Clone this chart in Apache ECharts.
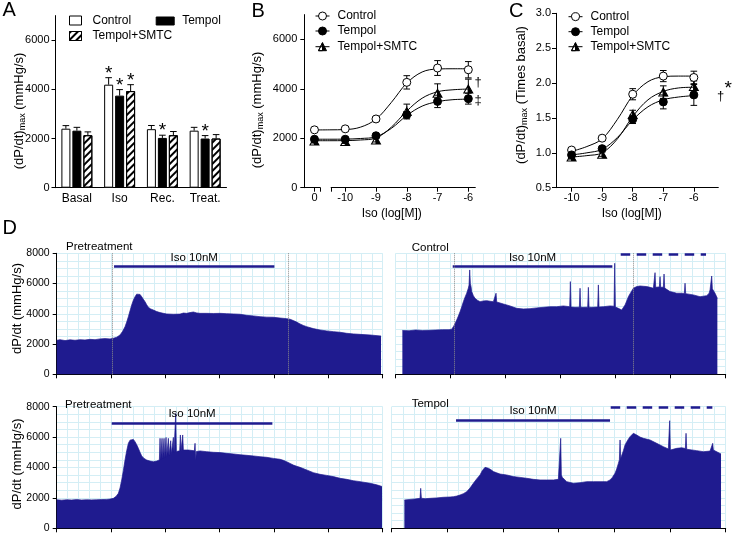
<!DOCTYPE html>
<html><head><meta charset="utf-8">
<script src="https://cdn.jsdelivr.net/npm/echarts@6/dist/echarts.min.js"></script>
<style>html,body{margin:0;padding:0;background:#fff}#c{width:733px;height:536px}</style>
</head><body><div id="c"></div>
<script>
// ---------- Panel A ----------
const catsA = ['Basal', 'Iso', 'Rec.', 'Treat.'];
const ticksA = [0, 2000, 4000, 6000];
const ctrlA = [2400, 4190, 2380, 2320];
const ctrlAErr = [125, 285, 150, 135];
const tempA = [2320, 3745, 2025, 2000];
const tempAErr = [135, 245, 110, 120];
const smtcA = [2135, 3930, 2135, 2000];
const smtcAErr = [135, 260, 150, 160];
const sigACtrl = ['', '*', '', ''];
const sigATemp = ['', '*', '*', '*'];
const sigASmtc = ['', '*', '', ''];

// ---------- Panel B ----------  (-11 stands for the "0" = no Iso position)
const xB = [-11, -10, -9, -8, -7, -6];
const xBLabels = ['0', '-10', '-9', '-8', '-7', '-6'];
const ticksB = [0, 2000, 4000, 6000];
const ctrlB = [2340, 2380, 2780, 4260, 4840, 4770];
const ctrlBErr = [60, 60, 90, 270, 300, 330];
const tempB = [1960, 1960, 2100, 2950, 3490, 3600];
const tempBErr = [60, 60, 60, 130, 250, 220];
const smtcB = [1890, 1870, 1930, 3080, 3820, 3990];
const smtcBErr = [80, 80, 80, 300, 380, 400];
const fitXB = [-11, -10.5, -10, -9.5, -9, -8.5, -8, -7.5, -7, -6.5, -6];
const ctrlFitB = [2335, 2340, 2350, 2450, 2770, 3450, 4230, 4680, 4800, 4810, 4810];
const tempFitB = [1960, 1960, 1965, 1990, 2060, 2400, 2920, 3300, 3480, 3560, 3580];
const smtcFitB = [1900, 1900, 1905, 1930, 2010, 2450, 3100, 3620, 3880, 3960, 3990];

// ---------- Panel C ----------
const xC = [-10, -9, -8, -7, -6];
const ctrlC = [1.04, 1.21, 1.84, 2.10, 2.08];
const ctrlCErr = [0.03, 0.03, 0.08, 0.08, 0.09];
const tempC = [0.97, 1.06, 1.48, 1.73, 1.83];
const tempCErr = [0.03, 0.03, 0.06, 0.10, 0.15];
const smtcC = [0.94, 0.98, 1.55, 1.87, 1.95];
const smtcCErr = [0.03, 0.03, 0.06, 0.09, 0.08];
const fitXC = [-10, -9.5, -9, -8.5, -8, -7.5, -7, -6.5, -6];
const ctrlFitC = [1.02, 1.09, 1.20, 1.48, 1.82, 2.02, 2.09, 2.10, 2.10];
const tempFitC = [0.97, 1.00, 1.05, 1.22, 1.47, 1.66, 1.76, 1.80, 1.82];
const smtcFitC = [0.94, 0.96, 1.00, 1.20, 1.52, 1.76, 1.88, 1.93, 1.94];

// ---------- Panel D traces: [time (a.u.), dP/dt mmHg/s] ----------
const trTL = [[0,2250],[10,2290],[25,2230],[40,2280],[55,2250],[70,2290],[85,2270],[100,2310],[115,2290],[130,2340],[145,2360],[160,2340],[170,2380],[180,2450],[190,2600],[198,2850],[205,3150],[210,3450],[215,3810],[220,4200],[225,4580],[230,4900],[235,5130],[240,5300],[245,5360],[250,5280],[255,5130],[260,4960],[265,4800],[270,4600],[275,4430],[282,4320],[290,4250],[300,4150],[310,4080],[320,4030],[330,3990],[350,3970],[370,3980],[380,4050],[390,4030],[400,4080],[410,4120],[420,4060],[430,4030],[450,4030],[470,4020],[490,4030],[510,4010],[530,3990],[550,3970],[570,3900],[590,3860],[610,3810],[630,3780],[650,3770],[670,3720],[690,3680],[700,3640],[710,3550],[720,3450],[730,3330],[740,3230],[750,3150],[770,3020],[790,2930],[810,2870],[830,2820],[850,2780],[870,2710],[890,2670],[910,2640],[940,2600],[973,2530]];
const trTR = [[20,2900],[40,2880],[60,2930],[80,2900],[100,2910],[120,2930],[140,2950],[160,2950],[168,2980],[173,3150],[178,3350],[183,3590],[188,3850],[193,4140],[198,4450],[203,4800],[208,5100],[213,5360],[218,5700],[220,5900],[222,6900],[224,6000],[226,5800],[228,5470],[233,5200],[238,5020],[245,4900],[253,4800],[263,4850],[273,4870],[283,4830],[293,4800],[299,4800],[301,5360],[303,4780],[308,4740],[323,4650],[343,4520],[363,4360],[383,4320],[403,4340],[423,4390],[443,4430],[463,4470],[483,4470],[503,4520],[522,4470],[524,6130],[526,4450],[538,4430],[551,4440],[553,5690],[555,4440],[563,4430],[576,4440],[578,5750],[580,4440],[588,4430],[606,4450],[608,5910],[610,4450],[623,4470],[643,4520],[655,4500],[657,7340],[659,4450],[668,4360],[678,4250],[683,4350],[688,4580],[693,4850],[698,5130],[705,5400],[713,5690],[723,5800],[733,5840],[743,5820],[753,5800],[763,5750],[773,5690],[776,5700],[778,6720],[780,5750],[785,5800],[791,5780],[793,6460],[795,5750],[801,5800],[803,5760],[805,6630],[807,5700],[813,5690],[823,5470],[833,5420],[843,5360],[855,5360],[866,5350],[868,6020],[870,5330],[873,5300],[893,5250],[913,5130],[933,5200],[940,5350],[943,5580],[946,5600],[948,6500],[950,5650],[953,5600],[958,5360],[965,5020]];
const trBL = [[0,1880],[15,1850],[30,1880],[45,1860],[60,1890],[75,1860],[90,1880],[105,1870],[120,1880],[135,1890],[150,1900],[160,1920],[170,1970],[178,2100],[185,2300],[190,2650],[195,3180],[200,3800],[205,4490],[210,5100],[215,5590],[220,5800],[225,5920],[230,5850],[235,5700],[240,5500],[245,5260],[250,5000],[255,4760],[262,4600],[270,4490],[280,4420],[290,4380],[300,4420],[305,4450],[308,4500],[310,5920],[312,4550],[314,4600],[316,5920],[318,4600],[320,4620],[322,5920],[324,4650],[326,4700],[328,5980],[330,4700],[333,4750],[335,5920],[337,4800],[340,4850],[342,5760],[344,4900],[348,4950],[350,5980],[352,5000],[355,5000],[357,7560],[359,5050],[365,5100],[369,5100],[371,6140],[373,5100],[376,5150],[378,6140],[380,5150],[385,5200],[395,5150],[413,5100],[415,5590],[417,4500],[419,5050],[430,5090],[450,5040],[470,5000],[490,4980],[510,4930],[530,4890],[550,4840],[570,4800],[590,4760],[610,4710],[630,4670],[650,4600],[670,4540],[680,4470],[690,4380],[700,4270],[710,4160],[720,4080],[730,4010],[750,3840],[770,3660],[790,3550],[810,3480],[830,3400],[850,3290],[870,3220],[890,3130],[910,3070],[940,2960],[960,2860],[976,2750]];
const trBR = [[38,1860],[55,1900],[70,1930],[85,1970],[87,2630],[89,1980],[100,1950],[115,1970],[135,2000],[155,2040],[175,2060],[185,2080],[195,2120],[205,2190],[215,2280],[225,2410],[235,2650],[245,2960],[255,3250],[265,3510],[272,3800],[280,4010],[285,4000],[290,3950],[298,3850],[305,3730],[315,3650],[325,3570],[345,3510],[365,3400],[385,3350],[405,3290],[425,3220],[445,3180],[465,3180],[485,3180],[500,3220],[505,3300],[507,5920],[509,3500],[512,3350],[515,3290],[525,3070],[545,2960],[565,3000],[585,3070],[605,3070],[625,3070],[645,3070],[655,3180],[662,3350],[670,3620],[675,3900],[680,4270],[683,4500],[685,5810],[687,4600],[690,4710],[695,5100],[700,5480],[708,5800],[715,6030],[725,6250],[735,6140],[745,6000],[755,5920],[775,5810],[795,5590],[815,5370],[830,5220],[832,5200],[834,7080],[836,5150],[840,5150],[855,5260],[870,5300],[881,5250],[883,6250],[885,5200],[890,5150],[915,5110],[935,5040],[955,5080],[961,5150],[963,5590],[965,5150],[970,5040],[988,4890]];
// Iso application [start, end, plotted level], second drug (dashed) and event markers
const isoTL = [172, 653, 7114], evTL = [168, 695];
const isoTR = [171, 650, 7114], dashTR = [675, 931, 7934], evTR = [176, 713];
const isoBL = [165, 647, 6908];
const isoBR = [193, 655, 7125], dashBR = [657, 962, 7934];

const FONT = 'Liberation Sans, Arial, sans-serif';
const NAVY = '#1f1b8f';
const GRIDC = '#d4eef5';
const BLK = '#000';
const plain = v => String(v);

const chart = echarts.init(document.getElementById('c'));

// ---- helpers ----
function barErr(vals, errs, sig, off) {
  return {
    type: 'custom', xAxisIndex: 0, yAxisIndex: 0, z: 5, silent: true,
    data: vals.map((v, i) => [i, v, errs[i]]),
    renderItem(params, api) {
      const i = api.value(0), v = api.value(1), e = api.value(2);
      const base = api.coord([i, v]), top = api.coord([i, v + e]);
      const x = base[0] + off;
      const st = { stroke: BLK, lineWidth: 1 };
      const ch = [
        { type: 'line', shape: { x1: x, y1: base[1], x2: x, y2: top[1] }, style: st },
        { type: 'line', shape: { x1: x - 3.3, y1: top[1], x2: x + 3.3, y2: top[1] }, style: st }
      ];
      const s = sig[params.dataIndex];
      if (s) ch.push({ type: 'text', style: { text: s, x: x, y: top[1] - 4, align: 'center', verticalAlign: 'middle', fontSize: 19, fontFamily: FONT, fill: BLK } });
      return { type: 'group', children: ch };
    }
  };
}
function errSeries(xs, ys, es, ai, cap) {
  return {
    type: 'custom', xAxisIndex: ai, yAxisIndex: ai, z: 3, silent: true,
    data: xs.map((x, i) => [x, ys[i], es[i]]),
    renderItem(params, api) {
      const x = api.value(0), y = api.value(1), e = api.value(2);
      const hi = api.coord([x, y + e]), lo = api.coord([x, y - e]);
      const st = { stroke: BLK, lineWidth: 1 };
      return { type: 'group', children: [
        { type: 'line', shape: { x1: hi[0], y1: hi[1], x2: lo[0], y2: lo[1] }, style: st },
        { type: 'line', shape: { x1: hi[0] - cap, y1: hi[1], x2: hi[0] + cap, y2: hi[1] }, style: st },
        { type: 'line', shape: { x1: lo[0] - cap, y1: lo[1], x2: lo[0] + cap, y2: lo[1] }, style: st }
      ] };
    }
  };
}
const TRI = 'path://M0,10L5,0L10,10Z M0,10L5,10L5,0Z';
function ptSeries(name, xs, ys, ai, symbol, size, fill) {
  return {
    type: 'line', name, xAxisIndex: ai, yAxisIndex: ai, z: 6,
    data: xs.map((x, i) => [x, ys[i]]),
    symbol, symbolSize: size, showSymbol: true,
    lineStyle: { opacity: 0, width: 1, color: BLK },
    itemStyle: { color: fill, borderColor: BLK, borderWidth: 1 }
  };
}
function fitSeries(xs, ys, ai, extra) {
  return Object.assign({
    type: 'line', xAxisIndex: ai, yAxisIndex: ai, z: 2, smooth: 0.35, symbol: 'none', silent: true,
    data: xs.map((x, i) => [x, ys[i]]),
    lineStyle: { color: BLK, width: 1 }
  }, extra || {});
}
function numAxisStyle(fs) {
  return {
    axisLine: { show: true, lineStyle: { color: BLK, width: 1 } },
    axisTick: { show: true, length: 4, lineStyle: { color: BLK } },
    axisLabel: { fontSize: fs, color: BLK, fontFamily: FONT },
    splitLine: { show: false }
  };
}
function dX(gi, W) {
  return {
    type: 'value', gridIndex: gi, min: 0, max: W, interval: W / 6,
    axisLine: { show: true, lineStyle: { color: BLK } },
    axisTick: { show: true, length: 4, lineStyle: { color: BLK } },
    axisLabel: { show: false },
    splitLine: { show: true, lineStyle: { color: GRIDC, width: 1 } },
    minorTick: { show: false, splitNumber: 5 },
    minorSplitLine: { show: true, lineStyle: { color: GRIDC, width: 1 } }
  };
}
function dY(gi, visible) {
  return {
    type: 'value', gridIndex: gi, min: 0, max: 8000, interval: 2000,
    axisLine: { show: visible, lineStyle: { color: BLK } },
    axisTick: { show: visible, length: 4, lineStyle: { color: BLK } },
    axisLabel: { show: visible, fontSize: 10.5, color: BLK, fontFamily: FONT, margin: 7, formatter: plain },
    splitLine: { show: true, lineStyle: { color: GRIDC, width: 1 } },
    minorTick: { show: false, splitNumber: 4 },
    minorSplitLine: { show: true, lineStyle: { color: GRIDC, width: 1 } }
  };
}
function traceSeries(ai, data, iso, dash, ev) {
  const ml = [];
  ml.push([{ coord: [iso[0], iso[2]], lineStyle: { color: NAVY, width: 2.6, type: 'solid' },
             label: { show: true, formatter: 'Iso 10nM', position: 'insideMiddleTop', distance: 3, fontSize: 11.5, color: BLK, fontFamily: FONT } },
           { coord: [iso[1], iso[2]] }]);
  if (dash) ml.push([{ coord: [dash[0], dash[2]], lineStyle: { color: NAVY, width: 2.6, type: [9.5, 6.5] } }, { coord: [dash[1], dash[2]] }]);
  if (ev) ev.forEach(t => ml.push({ xAxis: t, lineStyle: { color: '#8a8a8a', width: 1, type: 'dotted' } }));
  return {
    type: 'line', xAxisIndex: ai, yAxisIndex: ai, data, symbol: 'none', silent: true, z: 2,
    lineStyle: { color: NAVY, width: 0.7 },
    areaStyle: { color: NAVY, opacity: 1 },
    markLine: { silent: true, symbol: ['none', 'none'], animation: false, label: { show: false }, data: ml }
  };
}

const xMinB = -11.33, xMaxB = -5.76;
const legendCommon = {
  padding: 0, selectedMode: false, orient: 'horizontal',
  formatter: n => n.split('|')[0],
  itemStyle: { borderWidth: 1 },
  lineStyle: { opacity: 1, width: 1, color: BLK }
};
function lg(name, left, top, iw, ih, pad, icon) {
  const o = Object.assign({}, legendCommon, {
    data: [name], left, top, itemWidth: iw, itemHeight: ih,
    textStyle: { fontSize: 12, color: BLK, fontFamily: FONT, padding: [0, 0, 0, pad] }
  });
  if (icon) o.icon = icon;
  return o;
}
function txt(x, y, text, size, align) {
  return { type: 'text', x, y, z: 100, silent: true,
    style: { text, fontSize: size, fontFamily: FONT, fill: BLK, align: align || 'left', verticalAlign: 'middle' } };
}
function vtitle(x, y, text) {
  return { type: 'text', x, y, z: 100, rotation: Math.PI / 2, silent: true,
    style: { text, fontSize: 13, fontFamily: FONT, fill: BLK, align: 'center', verticalAlign: 'middle',
      rich: { sub: { fontSize: 9, fontFamily: FONT, fill: BLK, padding: [7, 0, 0, 0] } } } };
}

const option = {
  animation: false,
  backgroundColor: '#fff',
  textStyle: { fontFamily: FONT },
  grid: [
    { left: 55.5, top: 15.6, width: 171, height: 172.1 },
    { left: 304.3, top: 14.6, width: 171.4, height: 173.1 },
    { left: 556, top: 13.3, width: 162.3, height: 174.4 },
    { left: 56.7, top: 253.3, width: 326, height: 121 },
    { left: 395.7, top: 253.3, width: 330, height: 121 },
    { left: 56.7, top: 406.7, width: 326, height: 121.6 },
    { left: 391.7, top: 406.7, width: 334, height: 121.6 }
  ],
  xAxis: [
    { type: 'category', gridIndex: 0, data: catsA,
      axisLine: { lineStyle: { color: BLK } }, axisTick: { show: false },
      axisLabel: { fontSize: 12, color: BLK, fontFamily: FONT, margin: 5 }, splitLine: { show: false } },
    Object.assign(numAxisStyle(11), { type: 'value', gridIndex: 1, min: xMinB, max: xMaxB,
      axisLine: { show: false },
      axisTick: { show: true, length: 4, lineStyle: { color: BLK }, customValues: xB.concat([-10.8, -10.47]) },
      axisLabel: { fontSize: 11, color: BLK, fontFamily: FONT, margin: 5, customValues: xB, formatter: v => xBLabels[xB.indexOf(v)] } }),
    Object.assign(numAxisStyle(11), { type: 'value', gridIndex: 2, min: -10.51, max: -5.2,
      axisTick: { show: true, length: 4, lineStyle: { color: BLK }, customValues: xC },
      axisLabel: { fontSize: 11, color: BLK, fontFamily: FONT, margin: 5, customValues: xC, formatter: plain } }),
    dX(3, 978), dX(4, 990), dX(5, 978), dX(6, 1002)
  ],
  yAxis: [
    Object.assign(numAxisStyle(11), { type: 'value', gridIndex: 0, min: 0, max: 7000,
      axisTick: { show: true, length: 4, lineStyle: { color: BLK }, customValues: ticksA },
      axisLabel: { fontSize: 11, color: BLK, fontFamily: FONT, margin: 6, customValues: ticksA, formatter: plain } }),
    Object.assign(numAxisStyle(11), { type: 'value', gridIndex: 1, min: 0, max: 7000,
      axisTick: { show: true, length: 4, lineStyle: { color: BLK }, customValues: ticksB },
      axisLabel: { fontSize: 11, color: BLK, fontFamily: FONT, margin: 7, customValues: ticksB, formatter: plain } }),
    Object.assign(numAxisStyle(11), { type: 'value', gridIndex: 2, min: 0.5, max: 3, interval: 0.5,
      axisLabel: { fontSize: 11, color: BLK, fontFamily: FONT, margin: 5, formatter: v => v.toFixed(1) } }),
    dY(3, true), dY(4, false), dY(5, true), dY(6, false)
  ],
  legend: [
    lg('Control|A', 69, 14.5, 12, 9, 6, 'rect'),
    lg('Tempol|A', 155.7, 15, 18, 8, 3, 'rect'),
    lg('Tempol+SMTC|A', 69, 30, 12, 9, 6, 'rect'),
    lg('Control|B', 315, 10, 14, 10, 3),
    lg('Tempol|B', 315, 25, 14, 10, 3),
    lg('Tempol+SMTC|B', 315, 40.7, 14, 10, 3),
    lg('Control|C', 568, 10.7, 14, 10, 3),
    lg('Tempol|C', 568, 25.7, 14, 10, 3),
    lg('Tempol+SMTC|C', 568, 40.7, 14, 10, 3)
  ],
  series: [
    // A bars
    { type: 'bar', name: 'Control|A', xAxisIndex: 0, yAxisIndex: 0, data: ctrlA, barWidth: 9, barGap: '22%',
      itemStyle: { color: '#fff', borderColor: BLK, borderWidth: 1 } },
    { type: 'bar', name: 'Tempol|A', xAxisIndex: 0, yAxisIndex: 0, data: tempA, barWidth: 9, barGap: '22%',
      itemStyle: { color: BLK, borderColor: BLK, borderWidth: 1 } },
    { type: 'bar', name: 'Tempol+SMTC|A', xAxisIndex: 0, yAxisIndex: 0, data: smtcA, barWidth: 9, barGap: '22%',
      itemStyle: { color: '#fff', borderColor: BLK, borderWidth: 1,
        decal: { symbol: 'rect', symbolSize: 1, color: BLK, dashArrayX: [1, 0], dashArrayY: [1.3, 2.6], rotation: -Math.PI / 4 } } },
    barErr(ctrlA, ctrlAErr, sigACtrl, -11),
    barErr(tempA, tempAErr, sigATemp, 0),
    barErr(smtcA, smtcAErr, sigASmtc, 11),
    // B
    fitSeries(fitXB, ctrlFitB, 1, { markLine: { silent: true, symbol: ['none', 'none'], label: { show: false },
      lineStyle: { color: BLK, width: 1, type: 'solid' },
      data: [[{ coord: [xMinB, 0] }, { coord: [-10.8, 0] }], [{ coord: [-10.47, 0] }, { coord: [xMaxB, 0] }]] } }),
    fitSeries(fitXB, tempFitB, 1),
    fitSeries(fitXB, smtcFitB, 1),
    errSeries(xB, ctrlB, ctrlBErr, 1, 3.3),
    errSeries(xB, tempB, tempBErr, 1, 3.3),
    errSeries(xB, smtcB, smtcBErr, 1, 3.3),
    ptSeries('Control|B', xB, ctrlB, 1, 'circle', 8, '#fff'),
    ptSeries('Tempol|B', xB, tempB, 1, 'circle', 8, BLK),
    ptSeries('Tempol+SMTC|B', xB, smtcB, 1, TRI, [9, 8], BLK),
    // C
    fitSeries(fitXC, ctrlFitC, 2),
    fitSeries(fitXC, tempFitC, 2),
    fitSeries(fitXC, smtcFitC, 2),
    errSeries(xC, ctrlC, ctrlCErr, 2, 3.3),
    errSeries(xC, tempC, tempCErr, 2, 3.3),
    errSeries(xC, smtcC, smtcCErr, 2, 3.3),
    ptSeries('Control|C', xC, ctrlC, 2, 'circle', 8, '#fff'),
    ptSeries('Tempol|C', xC, tempC, 2, 'circle', 8, BLK),
    ptSeries('Tempol+SMTC|C', xC, smtcC, 2, TRI, [9, 8], BLK),
    // D traces
    traceSeries(3, trTL, isoTL, null, evTL),
    traceSeries(4, trTR, isoTR, dashTR, evTR),
    traceSeries(5, trBL, isoBL, null, null),
    traceSeries(6, trBR, isoBR, dashBR, null)
  ],
  graphic: [
    txt(2.5, 10.5, 'A', 20), txt(251.5, 11, 'B', 20), txt(509, 11, 'C', 20), txt(2.5, 228, 'D', 20),
    vtitle(19, 111, '(dP/dt){sub|max} (mmHg/s)'),
    vtitle(257, 110, '(dP/dt){sub|max} (mmHg/s)'),
    vtitle(521, 95, '(dP/dt){sub|max} (Times basal)'),
    vtitle(17, 308.5, 'dP/dt (mmHg/s)'),
    vtitle(17, 464, 'dP/dt (mmHg/s)'),
    txt(391.7, 213.3, 'Iso (log[M])', 12, 'center'),
    txt(631.7, 213.3, 'Iso (log[M])', 12, 'center'),
    txt(66, 246.7, 'Pretreatment', 11.5),
    txt(411.7, 247.5, 'Control', 11.5),
    txt(65, 404.7, 'Pretreatment', 11.5),
    txt(411.7, 403.5, 'Tempol', 11.5),
    txt(474.5, 82.5, '\u2020', 13),
    txt(474.5, 100.5, '\u2021', 13),
    txt(724.5, 88.5, '*', 19),
    txt(717, 96, '\u2020', 13)
  ]
};
chart.setOption(option);
</script>
</body></html>
